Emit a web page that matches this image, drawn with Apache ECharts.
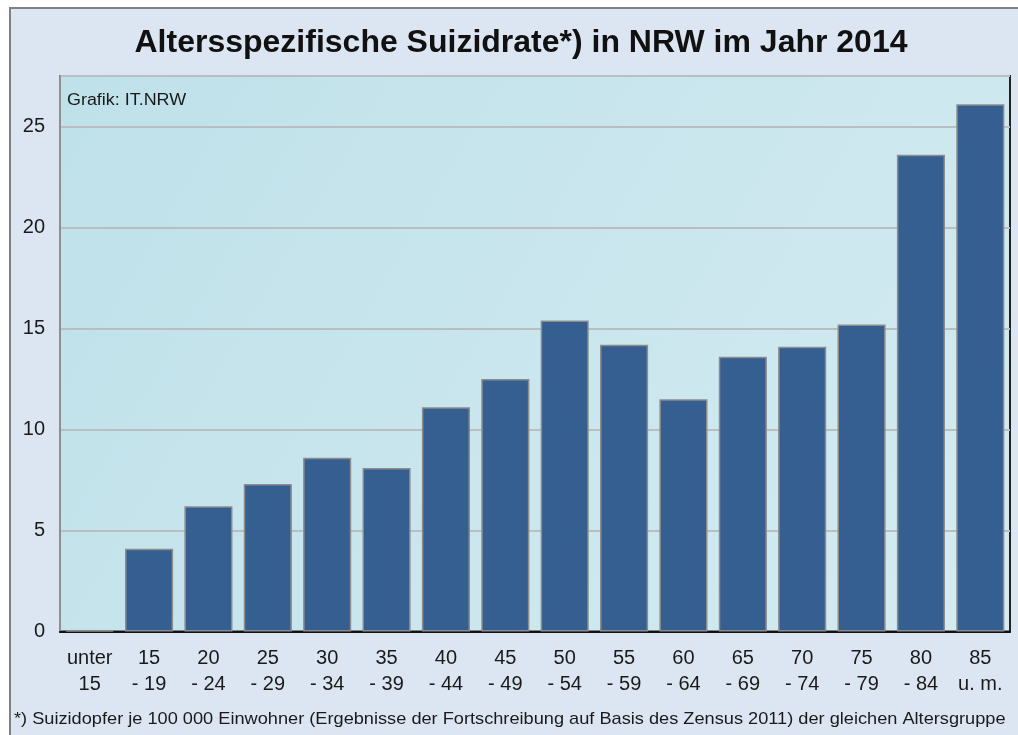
<!DOCTYPE html>
<html>
<head>
<meta charset="utf-8">
<script src="https://cdn.jsdelivr.net/npm/echarts@6/dist/echarts.min.js"></script>
<style>
html,body{margin:0;padding:0;background:#ffffff;}
#chart{width:1018px;height:735px;}
</style>
</head>
<body>
<div id="chart"></div>
<script>
const categories = ["unter\n15","15\n- 19","20\n- 24","25\n- 29","30\n- 34","35\n- 39","40\n- 44","45\n- 49","50\n- 54","55\n- 59","60\n- 64","65\n- 69","70\n- 74","75\n- 79","80\n- 84","85\nu. m."];
const rates = [0.05, 4.1, 6.2, 7.3, 8.6, 8.1, 11.1, 12.5, 15.4, 14.2, 11.5, 13.6, 14.1, 15.2, 23.6, 26.1];
const yTicks = [0, 5, 10, 15, 20, 25];
const titleText = "Altersspezifische Suizidrate*) in NRW im Jahr 2014";
const sourceText = "Grafik: IT.NRW";
const footnoteText = "*) Suizidopfer je 100 000 Einwohner (Ergebnisse der Fortschreibung auf Basis des Zensus 2011) der gleichen Altersgruppe";

const chart = echarts.init(document.getElementById('chart'), null, {renderer:'canvas'});
const font = "'Liberation Sans', Arial, sans-serif";
chart.setOption({
  backgroundColor: '#ffffff',
  animation: false,
  graphic: [
    {type:'rect', z:-10, shape:{x:10, y:8, width:1020, height:740}, style:{fill:'#dce6f2', stroke:'#808080', lineWidth:2}},
    {type:'text', x:521, y:43, style:{text:titleText, font:"bold 32px 'Liberation Sans', Arial, sans-serif", fill:'#111', align:'center', verticalAlign:'middle'}},
    {type:'text', x:67, y:101, scaleX:1.12, z:10, style:{text:sourceText, font:"16px 'Liberation Sans', Arial, sans-serif", fill:'#1a1a1a', verticalAlign:'middle'}},
    {type:'text', x:14, y:719, scaleX:1.07, style:{text:footnoteText, font:"17px 'Liberation Sans', Arial, sans-serif", fill:'#1a1a1a', verticalAlign:'middle'}}
  ],
  grid: {
    left: 60, right: 8, top: 76, bottom: 103.5,
    show: true,
    backgroundColor: new echarts.graphic.LinearGradient(0, 0, 1, 1, [
      {offset:0, color:'#bfe1ea'}, {offset:1, color:'#d4ebf1'}
    ]),
    borderColor: '#222', borderWidth: 2
  },
  xAxis: {
    type: 'category',
    data: categories,
    axisLine: {show:true, lineStyle:{color:'#111', width:2}},
    axisTick: {show:false},
    axisLabel: {color:'#1a1a1a', fontSize:20, fontFamily:font, lineHeight:26, margin:14, interval:0}
  },
  yAxis: {
    type: 'value',
    min: 0, max: 27.5, interval: 5,
    axisLine: {show:true, lineStyle:{color:'#8f8f8f', width:2}},
    axisTick: {show:false},
    axisLabel: {color:'#1a1a1a', fontSize:20, fontFamily:font, margin:15, showMaxLabel:false,
      formatter: v => yTicks.includes(v) ? String(v) : ''},
    splitLine: {show:true, lineStyle:{color:'#b9bec0', width:2}}
  },
  series: [{
    type: 'bar',
    data: rates,
    barCategoryGap: '19%',
    itemStyle: {color:'#355f91', borderColor:'#8c8c8c', borderWidth:1.5}
  }]
});
</script>
</body>
</html>
